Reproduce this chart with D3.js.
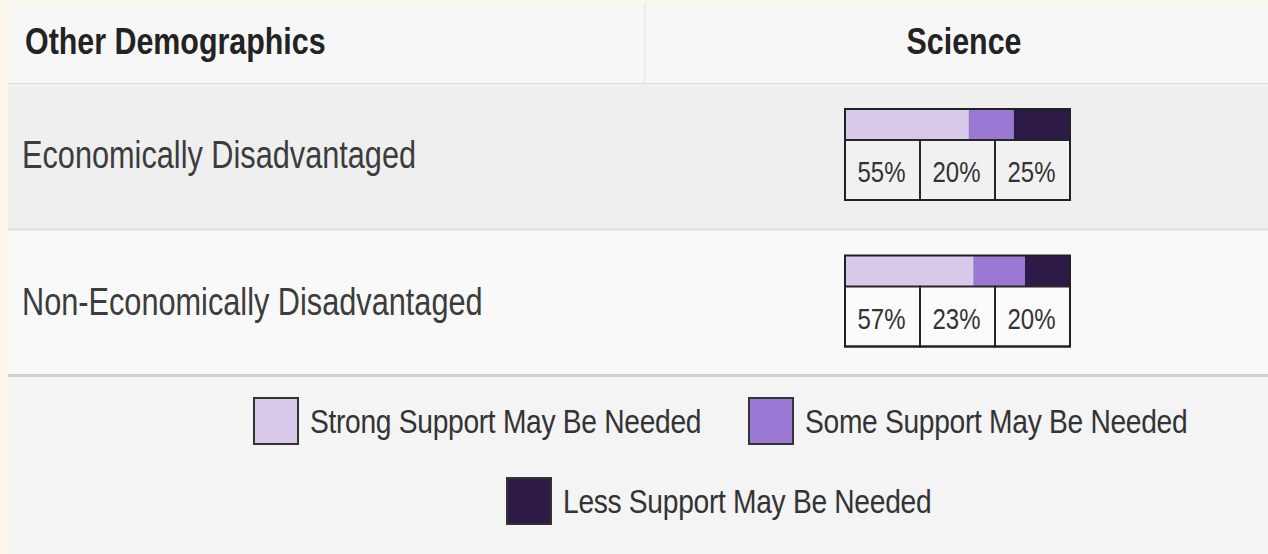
<!DOCTYPE html>
<html>
<head>
<meta charset="utf-8">
<script src="https://cdn.jsdelivr.net/npm/d3@7"></script>
<style>
  body { margin: 0; background: #f4f4f4; }
  svg { display: block; }
</style>
</head>
<body>
<div id="chart"></div>
<script>
// data
var headers = ["Other Demographics", "Science"];
var groups = ["Economically Disadvantaged", "Non-Economically Disadvantaged"];
var strongSupport = [55, 57];
var someSupport = [20, 23];
var lessSupport = [25, 20];
var levels = ["Strong Support May Be Needed", "Some Support May Be Needed", "Less Support May Be Needed"];

var w = 1268, h = 554;
var colors = ["#d8c8ea", "#9b78d3", "#2d1a47"];
var tableLeft = 8, tableTop = 3, headerH = 80, tableBottom = 377;

var svg = d3.select("#chart").append("svg")
    .attr("width", w)
    .attr("height", h);

// page background + cream strip on the left/top
svg.append("rect").attr("width", w).attr("height", h).attr("fill", "#fdf8ec");
svg.append("rect").attr("x", tableLeft).attr("y", tableTop)
    .attr("width", w - tableLeft).attr("height", h - tableTop).attr("fill", "#f4f4f4");

var x = d3.scaleLinear().domain([0, 100]).range([845, 1070]);
var cell = d3.scaleBand().domain([0, 1, 2]).range([845, 1070]);
var row = d3.scaleBand().domain(groups).range([tableTop + headerH + 1, tableBottom]);

// header
svg.append("rect").attr("x", tableLeft).attr("y", tableTop)
    .attr("width", w - tableLeft).attr("height", headerH).attr("fill", "#f7f7f7");
svg.append("line").attr("x1", 645).attr("x2", 645).attr("y1", tableTop).attr("y2", tableTop + headerH)
    .attr("stroke", "#e2e2e2");
svg.append("line").attr("x1", tableLeft).attr("x2", w).attr("y1", tableTop + headerH + 0.5).attr("y2", tableTop + headerH + 0.5)
    .attr("stroke", "#dcdcdc");

svg.selectAll(".head")
    .data(headers)
    .enter()
    .append("text")
    .classed("head", true)
    .attr("transform", function(d, i){
        return "translate(" + (i === 0 ? 25 : 964) + ",54) scale(1,1.22)";
    })
    .style("text-anchor", function(d, i){ return i === 0 ? "start" : "middle"; })
    .style("font-family", "'Liberation Sans', Arial, sans-serif")
    .style("font-weight", "bold")
    .style("font-size", "30.4px")
    .style("fill", "#232323")
    .text(function(d){ return d; });

// rows
var rows = svg.selectAll(".row")
    .data(groups)
    .enter()
    .append("g")
    .classed("row", true)
    .attr("transform", function(d){ return "translate(0," + row(d) + ")"; });

rows.append("rect")
    .attr("x", tableLeft)
    .attr("width", w - tableLeft)
    .attr("height", row.bandwidth())
    .attr("fill", function(d, i){ return i === 0 ? "#efefef" : "#f9f9f9"; });

rows.append("rect")
    .attr("x", tableLeft)
    .attr("y", function(d, i){ return i === 0 ? row.bandwidth() - 2 : row.bandwidth() - 3; })
    .attr("width", w - tableLeft)
    .attr("height", function(d, i){ return i === 0 ? 2 : 3; })
    .attr("fill", function(d, i){ return i === 0 ? "#dddddd" : "#d2d2d2"; });

rows.append("text")
    .attr("transform", "translate(22," + (row.bandwidth() / 2 + 11) + ") scale(1,1.27)")
    .style("font-family", "'Liberation Sans', Arial, sans-serif")
    .style("font-size", "30.7px")
    .style("fill", "#3c3c3c")
    .text(function(d){ return d; });

// stacked bar with percent boxes
var barTop = 25, barH = 31, labH = 60;
rows.each(function(d, i){
    var g = d3.select(this);
    var vals = [strongSupport[i], someSupport[i], lessSupport[i]];
    var start = 0;
    var segs = vals.map(function(v, k){
        var s = { v: v, x0: start, k: k };
        start += v;
        return s;
    });

    g.selectAll(".seg")
        .data(segs)
        .enter()
        .append("rect")
        .classed("seg", true)
        .attr("x", function(s){ return x(s.x0); })
        .attr("y", barTop)
        .attr("width", function(s){ return x(s.x0 + s.v) - x(s.x0); })
        .attr("height", barH)
        .attr("fill", function(s){ return colors[s.k]; });

    g.selectAll(".cell")
        .data(segs)
        .enter()
        .append("rect")
        .classed("cell", true)
        .attr("x", function(s){ return cell(s.k); })
        .attr("y", barTop + barH)
        .attr("width", cell.bandwidth())
        .attr("height", labH)
        .attr("fill", i === 0 ? "#f1f1f1" : "#fbfbfb")
        .attr("stroke", "#262626")
        .attr("stroke-width", 2);

    g.append("rect")
        .attr("x", x(0))
        .attr("y", barTop)
        .attr("width", x(100) - x(0))
        .attr("height", barH + labH)
        .attr("fill", "none")
        .attr("stroke", "#222")
        .attr("stroke-width", 2);

    g.selectAll(".pct")
        .data(segs)
        .enter()
        .append("text")
        .classed("pct", true)
        .attr("transform", function(s){
            return "translate(" + (cell(s.k) + cell.bandwidth() / 2 - 1) + "," + (barTop + barH + labH / 2 + 12) + ") scale(1,1.2)";
        })
        .style("text-anchor", "middle")
        .style("font-family", "'Liberation Sans', Arial, sans-serif")
        .style("font-size", "24px")
        .style("fill", "#333")
        .text(function(s){ return s.v + "%"; });
});

// legend
var legendPos = [[253, 397], [748, 397], [506, 477]];
var legend = svg.selectAll(".legend")
    .data(levels)
    .enter()
    .append("g")
    .classed("legend", true)
    .attr("transform", function(d, i){ return "translate(" + legendPos[i][0] + "," + legendPos[i][1] + ")"; });

legend.append("rect")
    .attr("x", 1).attr("y", 1)
    .attr("width", 44).attr("height", 46)
    .attr("fill", function(d, i){ return colors[i]; })
    .attr("stroke", "#333")
    .attr("stroke-width", 2);

legend.append("text")
    .attr("transform", "translate(57,36) scale(1,1.15)")
    .style("font-family", "'Liberation Sans', Arial, sans-serif")
    .style("font-size", "28.2px")
    .style("letter-spacing", "-0.3px")
    .style("fill", "#333")
    .text(function(d){ return d; });
</script>
</body>
</html>
